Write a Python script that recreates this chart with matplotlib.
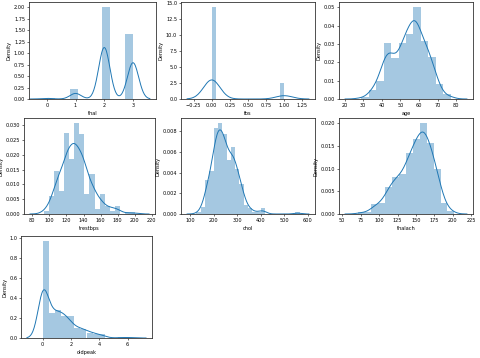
import numpy as np
import matplotlib
matplotlib.use("Agg")
import matplotlib.pyplot as plt
from matplotlib.ticker import MultipleLocator
import seaborn as sns

thal_vals = [0, 1, 2, 3]
thal_counts = [2, 18, 166, 117]

fbs_vals = [0, 1]
fbs_counts = [258, 45]

age_vals = [29, 34, 35, 37, 38, 39, 40, 41, 42, 43, 44, 45, 46, 47, 48, 49, 50,
            51, 52, 53, 54, 55, 56, 57, 58, 59, 60, 61, 62, 63, 64, 65, 66, 67,
            68, 69, 70, 71, 74, 76, 77]
age_counts = [1, 2, 4, 2, 3, 4, 3, 10, 8, 8, 11, 8, 7, 5, 7, 5, 7,
              12, 13, 8, 16, 8, 11, 17, 19, 14, 11, 8, 11, 9, 10, 8, 7, 9,
              4, 3, 4, 3, 1, 1, 1]

trestbps_vals = [94, 100, 101, 102, 104, 105, 106, 108, 110, 112, 114, 115, 117,
                 118, 120, 122, 123, 124, 125, 126, 128, 129, 130, 132, 134, 135,
                 136, 138, 140, 142, 144, 145, 146, 148, 150, 152, 154, 155, 156,
                 160, 164, 165, 170, 172, 174, 178, 180, 192, 200]
trestbps_counts = [2, 4, 1, 2, 1, 3, 1, 6, 19, 9, 1, 3, 1,
                   7, 37, 4, 1, 6, 11, 3, 12, 1, 36, 8, 5, 6,
                   3, 13, 32, 3, 2, 5, 2, 2, 17, 5, 1, 1, 1,
                   11, 1, 1, 4, 1, 1, 2, 3, 1, 1]

chol_range = (126, 564)
chol_counts = [1, 4, 18, 23, 46, 49, 43, 29, 36, 24, 16, 5, 3, 1, 1, 3,
               0, 0, 0, 0, 0, 0, 0, 1]

thalach_range = (71, 202)
thalach_counts = [1, 1, 6, 7, 17, 23, 25, 38, 47, 57, 44, 28, 7, 2]

oldpeak_vals = [0, 0.1, 0.2, 0.3, 0.4, 0.5, 0.6, 0.7, 0.8, 0.9, 1.0, 1.1, 1.2,
                1.3, 1.4, 1.5, 1.6, 1.8, 1.9, 2.0, 2.1, 2.2, 2.3, 2.4, 2.5, 2.6,
                2.8, 2.9, 3.0, 3.1, 3.2, 3.4, 3.5, 3.6, 3.8, 4.0, 4.2, 4.4, 5.6, 6.2]
oldpeak_counts = [99, 7, 12, 3, 9, 5, 14, 1, 13, 3, 14, 2, 17,
                  1, 13, 5, 11, 10, 5, 9, 1, 4, 2, 3, 2, 6,
                  6, 1, 5, 1, 2, 3, 1, 4, 1, 3, 2, 1, 1, 1]


def edges_for(rng, n):
    return np.linspace(rng[0], rng[1], n + 1)


chol_edges = edges_for(chol_range, len(chol_counts))
chol_vals = (chol_edges[:-1] + chol_edges[1:]) / 2
thalach_edges = edges_for(thalach_range, len(thalach_counts))
thalach_vals = (thalach_edges[:-1] + thalach_edges[1:]) / 2

# (name, values, counts, bin edges, (left, top, right, bottom) in px)
panels = [
    ("thal", thal_vals, thal_counts, edges_for((0, 3), 11), (29, 2, 156, 99)),
    ("fbs", fbs_vals, fbs_counts, edges_for((0, 1), 17), (181, 2, 315, 99)),
    ("age", age_vals, age_counts, edges_for((29, 77), 12), (339, 2, 473, 99)),
    ("trestbps", trestbps_vals, trestbps_counts, edges_for((94, 200), 18), (24, 118, 155, 214)),
    ("chol", chol_vals, chol_counts, chol_edges, (181, 118, 315, 214)),
    ("thalach", thalach_vals, thalach_counts, thalach_edges, (339, 118, 473, 214)),
    ("oldpeak", oldpeak_vals, oldpeak_counts, edges_for((0, 6.2), 14), (21, 236, 152, 338)),
]

W, H = 480, 358
fig = plt.figure(figsize=(W / 100, H / 100), dpi=100)
blue = "#1f77b4"
axes = {}

for name, vals, counts, edges, (l, t, r, b) in panels:
    ax = fig.add_axes([l / W, 1 - b / H, (r - l) / W, (b - t) / H])
    sample = np.repeat(np.asarray(vals, dtype=float), counts)
    ax.hist(sample, bins=edges, density=True, color=blue, alpha=0.4)
    sns.kdeplot(x=sample, ax=ax, color=blue, lw=0.7, cut=3)
    ax.set_xlabel(name, fontsize=3.6, labelpad=2.5)
    ax.set_ylabel("Density", fontsize=3.6, labelpad=1.5)
    ax.tick_params(labelsize=3.6, length=1.5, width=0.4, pad=1.2)
    for s in ax.spines.values():
        s.set_linewidth(0.6)
        s.set_color("#333333")
    axes[name] = ax

axes["thal"].set_xlim(-0.62, 3.8)
axes["fbs"].yaxis.set_major_locator(MultipleLocator(2.5))
axes["trestbps"].xaxis.set_major_locator(MultipleLocator(20))
axes["thalach"].yaxis.set_major_locator(MultipleLocator(0.005))

fig.savefig("out.png", dpi=100)
